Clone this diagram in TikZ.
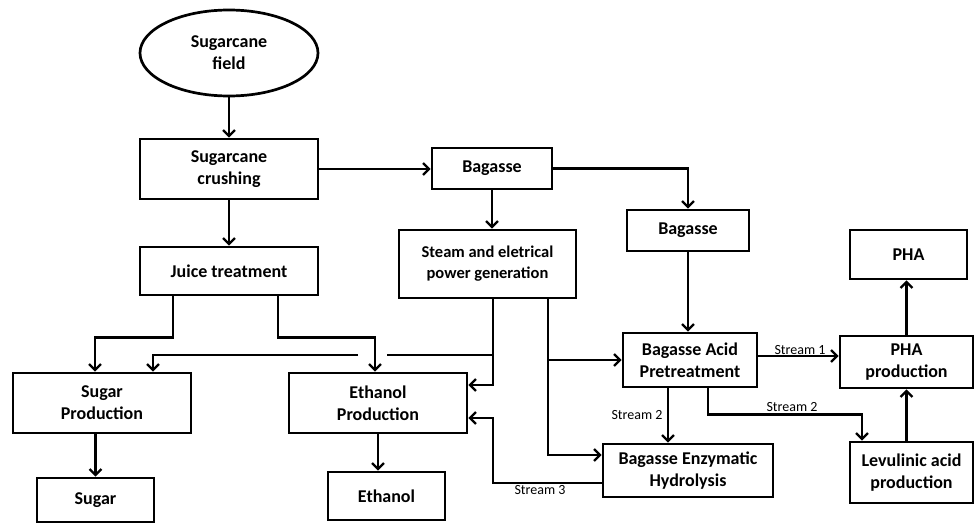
\documentclass[tikz,border=0pt]{standalone}
\usepackage{fontspec}
\setmainfont{Carlito}
\usetikzlibrary{arrows.meta,shapes.geometric}

\begin{document}
\begin{tikzpicture}[x=1pt,y=-1pt,
    box/.style={draw, line width=2.7pt, align=center, inner sep=2pt, font=\fontsize{18}{22}\selectfont\bfseries},
    arr/.style={line width=2.3pt, -{Straight Barb[length=6pt,width=12pt]}},
    line/.style={line width=2.3pt},
    lbl/.style={inner sep=1pt, font=\fontsize{14}{15}\selectfont}]
    \useasboundingbox (0,0) rectangle (974,525);
    % Draw the sugarcane and juice boxes.
    \node[box, ellipse, minimum width=178pt, minimum height=86pt] (field) at (229,53) {Sugarcane\\field};
    \node[box, minimum width=178pt, minimum height=60pt] (crush) at (229,169) {Sugarcane\\crushing};
    \node[box, minimum width=178pt, minimum height=48pt] (juice) at (229,271) {Juice treatment};
    \node[box, minimum width=178pt, minimum height=60pt] (sugprod) at (102,403) {Sugar\\Production};
    \node[box, minimum width=117pt, minimum height=44pt] (sugar) at (95.5,500) {Sugar};
    \node[box, minimum width=178pt, minimum height=60pt] (ethprod) at (378,403) {Ethanol\\Production};
    \node[box, minimum width=117pt, minimum height=48pt] (ethanol) at (386.5,496) {Ethanol};
    % Draw the bagasse boxes.
    \node[box, minimum width=120pt, minimum height=41pt] (bag1) at (492,168.5) {Bagasse};
    \node[box, minimum width=177pt, minimum height=68pt, font=\fontsize{16.5}{21}\selectfont\bfseries] (steam) at (487.5,264) {Steam and eletrical\\power generation};
    \node[box, minimum width=122pt, minimum height=41pt] (bag2) at (688,230.5) {Bagasse};
    \node[box, minimum width=134pt, minimum height=54pt] (acid) at (690,360) {Bagasse Acid\\Pretreatment};
    \node[box, minimum width=170pt, minimum height=53pt] (enzy) at (688,470.5) {Bagasse Enzymatic\\Hydrolysis};
    \node[box, minimum width=117pt, minimum height=49pt] (pha) at (908.5,254.5) {PHA};
    \node[box, minimum width=133pt, minimum height=52pt] (phaprod) at (906.5,362) {PHA\\production};
    \node[box, minimum width=123pt, minimum height=61pt] (levul) at (911.5,472.5) {Levulinic acid\\production};
    % Branch points of the connectors.
    \coordinate (hop) at (375,355);
    \coordinate (jl) at ([xshift=-56pt]juice.south);
    \coordinate (jr) at ([xshift=49pt]juice.south);
    \coordinate (sl) at ([xshift=5.5pt]steam.south);
    \coordinate (sr) at ([xshift=60.5pt]steam.south);
    \coordinate (a1) at ([yshift=4pt]acid.east);
    \coordinate (a2) at ([xshift=-22pt]acid.south);
    \coordinate (a3) at ([xshift=18pt]acid.south);
    \coordinate (e3) at ([yshift=-15pt]ethprod.east);
    % Draw the main line from the field to the products.
    \draw[arr] (field) -- (crush);
    \draw[arr] (crush) -- (juice);
    \draw[arr] (jl) -- ++(0,41) -| ([xshift=-7pt]sugprod.north);
    \draw[arr] (jr) -- ++(0,41) -| (hop |- ethprod.north);
    \draw[arr] (sugar.north |- sugprod.south) -- (sugar.north);
    \draw[arr] (ethprod.south) -- (ethprod.south |- ethanol.north);
    % Draw the bagasse lines.
    \draw[arr] (crush.east) -- (crush.east -| bag1.west);
    \draw[arr] (bag1.south) -- (bag1.south |- steam.north);
    \draw[arr] (bag1.east) -| (bag2.north);
    \draw[arr] (bag2.south) -- (bag2.south |- acid.north);
    % Draw the steam and power lines (the one to the sugar jumps the juice line).
    \draw[arr] (sl) |- ([yshift=18pt]ethprod.east);
    \draw[line] (sl |- hop) -- ([xshift=12pt]hop);
    \draw[arr] ([xshift=-17pt]hop) -| ([xshift=51pt]sugprod.north);
    \draw[arr] (sr) |- ([yshift=15.5pt]enzy.west);
    \draw[arr] (sr |- acid.west) -- (acid.west);
    % Draw the streams.
    \draw[arr] (a1) -- (a1 -| phaprod.west);
    \draw[arr] (a2) -- (a2 |- enzy.north);
    \draw[arr] (a3) -- ++(0,26) -| ([xshift=-49.5pt]levul.north);
    \draw[arr] ([yshift=-12.5pt]enzy.west) -| (sl |- e3) -- (e3);
    \draw[arr] (levul.north -| phaprod) -- (phaprod.south);
    \draw[arr] (phaprod.north) -- (phaprod.north |- pha.south);
    \node[lbl] (st1) at (800,350) {Stream 1};
    \node[lbl] (st2a) at (637,415) {Stream 2};
    \node[lbl] (st2b) at (792,407) {Stream 2};
    \node[lbl] (st3) at (540,490) {Stream 3};
\end{tikzpicture}
\end{document}
